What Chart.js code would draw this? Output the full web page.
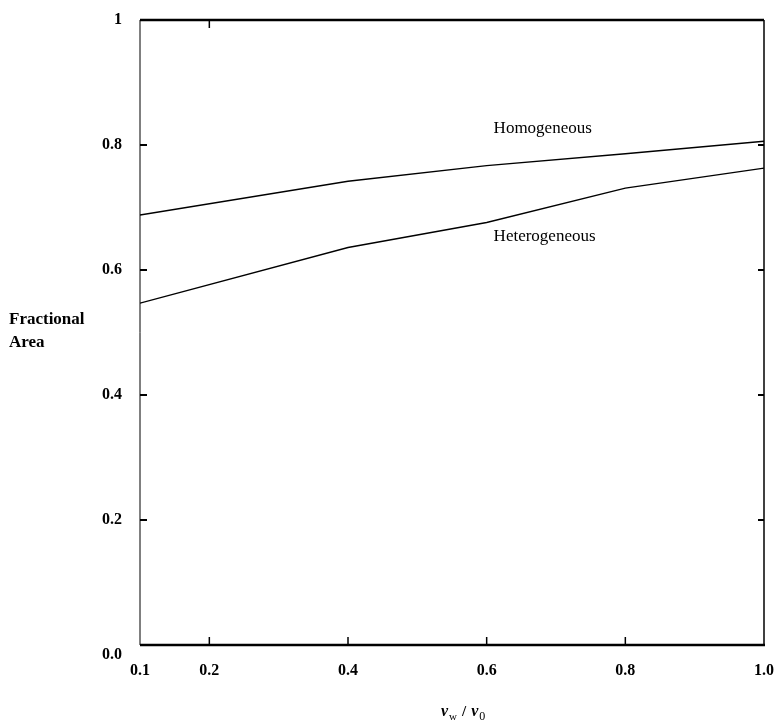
<!DOCTYPE html>
<html>
<head>
<meta charset="utf-8">
<script src="https://cdn.jsdelivr.net/npm/chart.js@4/dist/chart.umd.min.js"></script>
<style>
html,body{margin:0;padding:0;background:#fff;}
#wrap{width:781px;height:726px;position:relative;}
</style>
</head>
<body>
<div id="wrap"><canvas id="c" width="781" height="726"></canvas></div>
<script>
const xValues = [0.1, 0.4, 0.6, 0.8, 1.0];
const homogeneous = [0.688, 0.742, 0.767, 0.786, 0.806];
const heterogeneous = [0.547, 0.636, 0.676, 0.731, 0.763];
const xTicks = [0.1, 0.2, 0.4, 0.6, 0.8, 1.0];
const yTicks = [0.0, 0.2, 0.4, 0.6, 0.8, 1.0];
const yTickLabels = ['0.0', '0.2', '0.4', '0.6', '0.8', '1'];
const annotations = [
  {text: 'Homogeneous', x: 0.61, y: 0.827},
  {text: 'Heterogeneous', x: 0.61, y: 0.653}
];

const SERIF = '"Liberation Serif", "DejaVu Serif", serif';

const framePlugin = {
  id: 'frame',
  afterDatasetsDraw(chart) {
    const {ctx, chartArea: a, scales: {x, y}} = chart;
    ctx.save();
    ctx.strokeStyle = '#000';
    ctx.lineCap = 'butt';
    ctx.lineWidth = 2.5;
    ctx.beginPath(); ctx.moveTo(a.left, a.top); ctx.lineTo(a.right, a.top); ctx.stroke();
    ctx.beginPath(); ctx.moveTo(a.left, a.bottom); ctx.lineTo(a.right + 1, a.bottom); ctx.stroke();
    ctx.lineWidth = 1;
    ctx.beginPath(); ctx.moveTo(a.left, a.top); ctx.lineTo(a.left, a.bottom); ctx.stroke();
    ctx.lineWidth = 1.5;
    ctx.beginPath(); ctx.moveTo(a.right, a.top); ctx.lineTo(a.right, a.bottom); ctx.stroke();
    [0.2, 0.4, 0.6, 0.8].forEach(v => {
      ctx.lineWidth = 1.5;
      const px = x.getPixelForValue(v);
      ctx.beginPath(); ctx.moveTo(px, a.bottom); ctx.lineTo(px, a.bottom - 8); ctx.stroke();
      const py = y.getPixelForValue(v);
      ctx.lineWidth = 2;
      ctx.beginPath(); ctx.moveTo(a.left, py); ctx.lineTo(a.left + 7, py); ctx.stroke();
      ctx.beginPath(); ctx.moveTo(a.right, py); ctx.lineTo(a.right - 6, py); ctx.stroke();
    });
    ctx.lineWidth = 1.5;
    const tpx = x.getPixelForValue(0.2);
    ctx.beginPath(); ctx.moveTo(tpx, a.top); ctx.lineTo(tpx, a.top + 8); ctx.stroke();

    ctx.fillStyle = '#000';
    ctx.font = '17px ' + SERIF;
    ctx.textAlign = 'left';
    ctx.textBaseline = 'middle';
    annotations.forEach(an => {
      ctx.fillText(an.text, x.getPixelForValue(an.x), y.getPixelForValue(an.y));
    });

    ctx.font = 'bold 17px ' + SERIF;
    ctx.fillText('Fractional', 9, 320);
    ctx.fillText('Area', 9, 343);

    let cx = 441;
    const by = 716;
    ctx.textBaseline = 'alphabetic';
    ctx.font = 'bold italic 16px ' + SERIF;
    ctx.fillText('ν', cx, by); cx += ctx.measureText('ν').width + 1;
    ctx.font = '11px ' + SERIF;
    ctx.fillText('w', cx, by + 4); cx += ctx.measureText('w').width + 5;
    ctx.font = 'bold 15px ' + SERIF;
    ctx.fillText('/', cx, by); cx += ctx.measureText('/').width + 5;
    ctx.font = 'bold italic 16px ' + SERIF;
    ctx.fillText('ν', cx, by); cx += ctx.measureText('ν').width + 1;
    ctx.font = '12px ' + SERIF;
    ctx.fillText('0', cx, by + 4);
    ctx.restore();
  }
};

new Chart(document.getElementById('c'), {
  type: 'line',
  data: {
    datasets: [
      {label: 'Homogeneous', data: xValues.map((v, i) => ({x: v, y: homogeneous[i]})),
       borderColor: '#000', borderWidth: 1.3, pointRadius: 0, tension: 0, fill: false},
      {label: 'Heterogeneous', data: xValues.map((v, i) => ({x: v, y: heterogeneous[i]})),
       borderColor: '#000', borderWidth: 1.3, pointRadius: 0, tension: 0, fill: false}
    ]
  },
  options: {
    responsive: false,
    animation: false,
    layout: {padding: {left: 0, right: 17, top: 20, bottom: 0}},
    plugins: {legend: {display: false}, tooltip: {enabled: false}},
    scales: {
      x: {
        type: 'linear', min: 0.1, max: 1.0,
        afterBuildTicks: s => { s.ticks = xTicks.map(v => ({value: v})); },
        afterFit: s => { s.height = 81; s.paddingLeft = 0; s.paddingRight = 0; },
        grid: {display: false, drawTicks: false},
        border: {display: false},
        ticks: {
          padding: 16,
          color: '#000',
          font: {family: SERIF, size: 16, weight: 'bold'},
          callback: v => v.toFixed(1),
          maxRotation: 0, autoSkip: false
        }
      },
      y: {
        type: 'linear', min: 0, max: 1,
        afterBuildTicks: s => { s.ticks = yTicks.map(v => ({value: v})); },
        afterFit: s => { s.width = 140; s.paddingTop = 0; s.paddingBottom = 0; },
        grid: {display: false, drawTicks: false},
        border: {display: false},
        ticks: {
          padding: 18,
          color: '#000',
          font: {family: SERIF, size: 16, weight: 'bold'},
          callback: (v) => {
            const i = yTicks.findIndex(t => Math.abs(t - v) < 1e-9);
            const lab = i >= 0 ? yTickLabels[i] : '';
            return lab === '0.0' ? ['', lab] : lab;
          }
        }
      }
    }
  },
  plugins: [framePlugin]
});
</script>
</body>
</html>
